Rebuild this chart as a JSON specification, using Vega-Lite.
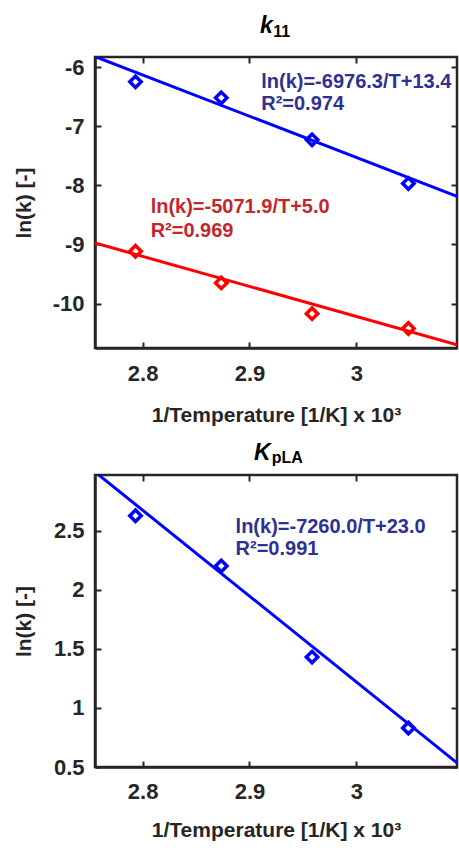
{
  "$schema": "https://vega.github.io/schema/vega-lite/v6.json",
  "background": "white",
  "padding": {"left": 11, "top": 13, "right": 0, "bottom": 5},
  "spacing": 13,
  "config": {
    "font": "Liberation Sans",
    "view": {"stroke": "#262626", "strokeWidth": 2.5},
    "axis": {
      "grid": false,
      "labelFont": "Liberation Sans",
      "labelFontSize": 22,
      "labelFontWeight": "bold",
      "labelColor": "#262626",
      "titleFont": "Liberation Sans",
      "titleFontSize": 21,
      "titleFontWeight": "bold",
      "titleColor": "#262626",
      "domainColor": "#262626",
      "domainWidth": 2.5,
      "tickColor": "#262626",
      "tickWidth": 2,
      "tickSize": -6
    }
  },
  "datasets": {
    "pts_k11": [
      {"x": 2.7933, "y": -6.25, "col": "#0000FF"},
      {"x": 2.8736, "y": -6.52, "col": "#0000FF"},
      {"x": 2.9586, "y": -7.23, "col": "#0000FF"},
      {"x": 3.0488, "y": -7.97, "col": "#0000FF"},
      {"x": 2.7933, "y": -9.115, "col": "#FF0000"},
      {"x": 2.8736, "y": -9.65, "col": "#FF0000"},
      {"x": 2.9586, "y": -10.17, "col": "#FF0000"},
      {"x": 3.0488, "y": -10.42, "col": "#FF0000"}
    ],
    "lines_k11": [
      {"series": "a", "x": 2.7554, "y": -5.8225, "col": "#0000FF"},
      {"series": "a", "x": 3.0943, "y": -8.1868, "col": "#0000FF"},
      {"series": "b", "x": 2.7554, "y": -8.9751, "col": "#FF0000"},
      {"series": "b", "x": 3.0943, "y": -10.694, "col": "#FF0000"}
    ],
    "ann_k11": [
      {"x": 2.911, "y": -6.35, "text": "ln(k)=-6976.3/T+13.4", "col": "#2E3192"},
      {"x": 2.911, "y": -6.72, "text": "R²=0.974", "col": "#2E3192"},
      {"x": 2.8075, "y": -8.47, "text": "ln(k)=-5071.9/T+5.0", "col": "#C1272D"},
      {"x": 2.8075, "y": -8.87, "text": "R²=0.969", "col": "#C1272D"}
    ],
    "pts_K": [
      {"x": 2.7933, "y": 2.625, "col": "#0000FF"},
      {"x": 2.8736, "y": 2.2, "col": "#0000FF"},
      {"x": 2.9586, "y": 1.43, "col": "#0000FF"},
      {"x": 3.0488, "y": 0.83, "col": "#0000FF"}
    ],
    "lines_K": [
      {"series": "a", "x": 2.7554, "y": 2.996, "col": "#0000FF"},
      {"series": "a", "x": 3.0943, "y": 0.5354, "col": "#0000FF"}
    ],
    "ann_K": [
      {"x": 2.887, "y": 2.483, "text": "ln(k)=-7260.0/T+23.0", "col": "#2E3192"},
      {"x": 2.887, "y": 2.297, "text": "R²=0.991", "col": "#2E3192"}
    ]
  },
  "vconcat": [
    {
      "width": 362,
      "height": 291,
      "title": {
        "text": "k",
        "subtitle": "\u200b\u00a0\u00a0\u00a011",
        "frame": "group",
        "anchor": "middle",
        "align": "left",
        "dx": -16,
        "offset": 16,
        "font": "Liberation Sans",
        "fontSize": 23,
        "fontWeight": "bold",
        "fontStyle": "italic",
        "color": "#000000",
        "subtitleFont": "Liberation Sans",
        "subtitleFontSize": 16,
        "subtitleFontWeight": "bold",
        "subtitleFontStyle": "normal",
        "subtitleColor": "#000000",
        "subtitlePadding": -14
      },
      "layer": [
        {
          "layer": [
            {
              "data": {"name": "lines_k11"},
              "mark": {"type": "line", "strokeWidth": 3, "clip": true},
              "encoding": {
                "x": {"field": "x", "type": "quantitative",
                  "scale": {"domain": [2.7554, 3.0943], "nice": false, "zero": false},
                  "axis": {"orient": "bottom", "values": [2.8, 2.9, 3], "labelExpr": "'' + datum.value",
                    "title": "1/Temperature [1/K] x 10³", "labelPadding": 21, "minExtent": 40, "maxExtent": 40, "titlePadding": 16}},
                "y": {"field": "y", "type": "quantitative",
                  "scale": {"domain": [-10.75, -5.83], "nice": false, "zero": false},
                  "axis": {"orient": "left", "values": [-10, -9, -8, -7, -6], "labelExpr": "'' + datum.value",
                    "title": "ln(k) [-]", "labelPadding": 17, "minExtent": 45, "maxExtent": 45, "titlePadding": 16}},
                "detail": {"field": "series"},
                "color": {"field": "col", "type": "nominal", "scale": null}
              }
            },
            {
              "data": {"name": "pts_k11"},
              "mark": {"type": "point", "shape": "diamond", "filled": false, "size": 130, "strokeWidth": 3.5, "opacity": 1},
              "encoding": {
                "x": {"field": "x", "type": "quantitative"},
                "y": {"field": "y", "type": "quantitative"},
                "color": {"field": "col", "type": "nominal", "scale": null}
              }
            },
            {
              "data": {"name": "ann_k11"},
              "mark": {"type": "text", "align": "left", "baseline": "alphabetic", "fontSize": 20, "fontWeight": "bold", "font": "Liberation Sans"},
              "encoding": {
                "x": {"field": "x", "type": "quantitative"},
                "y": {"field": "y", "type": "quantitative"},
                "text": {"field": "text"},
                "color": {"field": "col", "type": "nominal", "scale": null}
              }
            }
          ]
        },
        {
          "data": {"name": "pts_k11"},
          "mark": {"type": "point", "opacity": 0},
          "encoding": {
            "x": {"field": "x", "type": "quantitative",
              "scale": {"domain": [2.7554, 3.0943], "nice": false, "zero": false},
              "axis": {"orient": "top", "values": [2.8, 2.9, 3], "labels": false, "domain": false, "title": null}},
            "y": {"field": "y", "type": "quantitative",
              "scale": {"domain": [-10.75, -5.83], "nice": false, "zero": false},
              "axis": {"orient": "right", "values": [-10, -9, -8, -7, -6], "labels": false, "domain": false, "title": null}}
          }
        }
      ],
      "resolve": {"axis": {"x": "independent", "y": "independent"}}
    },
    {
      "width": 362,
      "height": 292,
      "title": {
        "text": "K",
        "subtitle": "\u200b\u00a0\u00a0\u00a0\u00a0pLA",
        "frame": "group",
        "anchor": "middle",
        "align": "left",
        "dx": -22,
        "offset": 8,
        "font": "Liberation Sans",
        "fontSize": 23,
        "fontWeight": "bold",
        "fontStyle": "italic",
        "color": "#000000",
        "subtitleFont": "Liberation Sans",
        "subtitleFontSize": 16,
        "subtitleFontWeight": "bold",
        "subtitleFontStyle": "normal",
        "subtitleColor": "#000000",
        "subtitlePadding": -15
      },
      "layer": [
        {
          "layer": [
            {
              "data": {"name": "lines_K"},
              "mark": {"type": "line", "strokeWidth": 3, "clip": true},
              "encoding": {
                "x": {"field": "x", "type": "quantitative",
                  "scale": {"domain": [2.7554, 3.0943], "nice": false, "zero": false},
                  "axis": {"orient": "bottom", "values": [2.8, 2.9, 3], "labelExpr": "'' + datum.value",
                    "title": "1/Temperature [1/K] x 10³", "labelPadding": 20, "minExtent": 40, "maxExtent": 40, "titlePadding": 12}},
                "y": {"field": "y", "type": "quantitative",
                  "scale": {"domain": [0.5, 2.97], "nice": false, "zero": false},
                  "axis": {"orient": "left", "values": [0.5, 1, 1.5, 2, 2.5], "labelExpr": "'' + datum.value",
                    "title": "ln(k) [-]", "labelPadding": 17, "minExtent": 45, "maxExtent": 45, "titlePadding": 16}},
                "detail": {"field": "series"},
                "color": {"field": "col", "type": "nominal", "scale": null}
              }
            },
            {
              "data": {"name": "pts_K"},
              "mark": {"type": "point", "shape": "diamond", "filled": false, "size": 130, "strokeWidth": 3.5, "opacity": 1},
              "encoding": {
                "x": {"field": "x", "type": "quantitative"},
                "y": {"field": "y", "type": "quantitative"},
                "color": {"field": "col", "type": "nominal", "scale": null}
              }
            },
            {
              "data": {"name": "ann_K"},
              "mark": {"type": "text", "align": "left", "baseline": "alphabetic", "fontSize": 20, "fontWeight": "bold", "font": "Liberation Sans"},
              "encoding": {
                "x": {"field": "x", "type": "quantitative"},
                "y": {"field": "y", "type": "quantitative"},
                "text": {"field": "text"},
                "color": {"field": "col", "type": "nominal", "scale": null}
              }
            }
          ]
        },
        {
          "data": {"name": "pts_K"},
          "mark": {"type": "point", "opacity": 0},
          "encoding": {
            "x": {"field": "x", "type": "quantitative",
              "scale": {"domain": [2.7554, 3.0943], "nice": false, "zero": false},
              "axis": {"orient": "top", "values": [2.8, 2.9, 3], "labels": false, "domain": false, "title": null}},
            "y": {"field": "y", "type": "quantitative",
              "scale": {"domain": [0.5, 2.97], "nice": false, "zero": false},
              "axis": {"orient": "right", "values": [0.5, 1, 1.5, 2, 2.5], "labels": false, "domain": false, "title": null}}
          }
        }
      ],
      "resolve": {"axis": {"x": "independent", "y": "independent"}}
    }
  ]
}
